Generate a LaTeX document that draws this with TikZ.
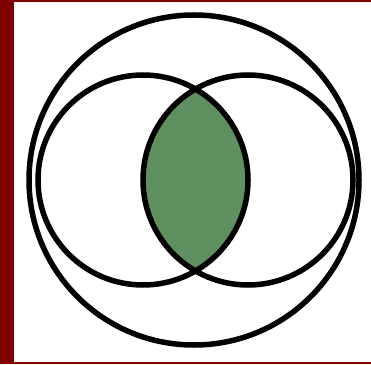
\documentclass[tikz,border=0pt]{standalone}
\definecolor{frame}{RGB}{128,0,0}
\definecolor{lens}{RGB}{95,145,96}
\tikzset{ring/.style={draw=black,line width=5.5pt}}
\begin{document}
\begin{tikzpicture}[x=1pt,y=1pt]
\useasboundingbox (0,0) rectangle (371,364);
\fill[frame] (0,0) rectangle (371,364);
\fill[white] (14,2) rectangle (371,362);
\coordinate (cl) at (143,184);
\coordinate (cr) at (248,184);
\coordinate (cb) at (194,184);
\begin{scope}
\clip (cl) circle[radius=105];
\fill[lens] (cr) circle[radius=105];
\end{scope}
\draw[ring] (cb) circle[radius=165];
\draw[ring] (cl) circle[radius=105];
\draw[ring] (cr) circle[radius=105];
\end{tikzpicture}
\end{document}
